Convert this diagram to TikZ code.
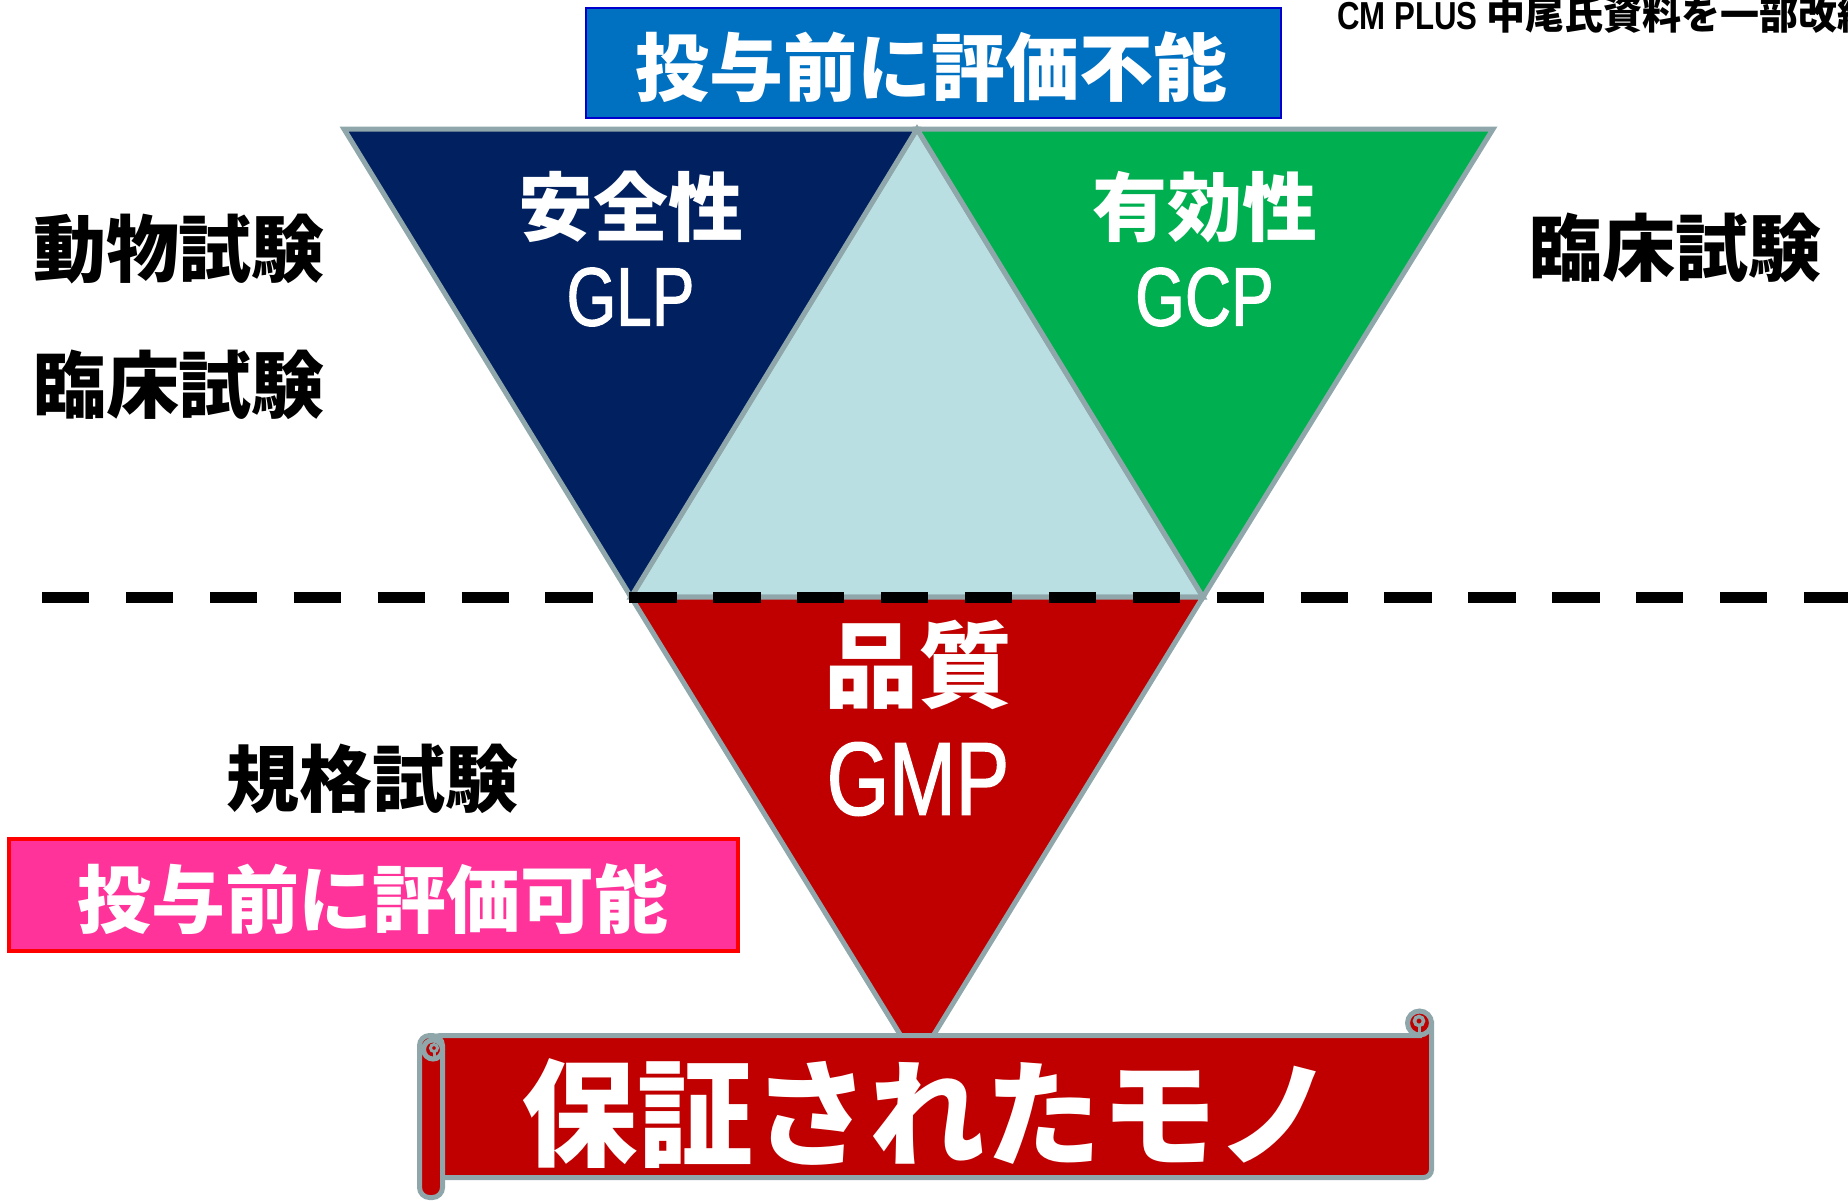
\documentclass[tikz,border=0pt]{standalone}
\usepackage{fontspec}
\newfontfamily\jp{Noto Sans CJK JP}
\newfontfamily\lat{Liberation Sans}[FakeStretch=0.77,FakeBold=1.3]
\newfontfamily\latb{Liberation Sans}[FakeStretch=0.8]
\definecolor{navy}{HTML}{002060}
\definecolor{grn}{HTML}{00B050}
\definecolor{lblue}{HTML}{BADFE2}
\definecolor{dred}{HTML}{C00000}
\definecolor{pink}{HTML}{FF3399}
\definecolor{bluebox}{HTML}{0070C0}
\definecolor{blueedge}{HTML}{0000CC}
\definecolor{edge}{HTML}{8FA7AA}
\tikzset{
  tri/.style={draw=edge, line width=5pt, line join=miter},
  scrollsty/.style={draw=edge, fill=dred, line width=5pt},
  wtxt/.style={text=white, inner sep=0pt},
  btxt/.style={text=black, inner sep=0pt},
}
\begin{document}
\begin{tikzpicture}[x=1pt,y=-1pt]
\useasboundingbox (0,0) rectangle (1848,1200);
% vertices
\coordinate (TL) at (344,129);
\coordinate (TM) at (917,129);
\coordinate (TR) at (1493,129);
\coordinate (ML) at (631,597);
\coordinate (MR) at (1203,597);
\coordinate (BA) at (917,1062);
% triangles
\draw[tri, fill=lblue] (TM) -- (ML) -- (MR) -- cycle;
\draw[tri, fill=navy] (TL) -- (TM) -- (ML) -- cycle;
\draw[tri, fill=grn] (TM) -- (TR) -- (MR) -- cycle;
\draw[tri, fill=dred] (ML) -- (MR) -- (BA) -- cycle;
% dashed line
\coordinate (DL) at (42,597.5);
\coordinate (DR) at (1860,597.5);
\draw[black, line width=11.5pt, dash pattern=on 47.3pt off 36.6pt] (DL) -- (DR);
% blue box
\node[draw=blueedge, fill=bluebox, line width=2.5pt, minimum width=695pt, minimum height=110pt, inner sep=0pt] (topbox) at (933.5,63) {};
\node[wtxt, font=\jp\bfseries\fontsize{74}{80}\selectfont] (toptext) at (931,67) {投与前に評価不能};
% pink box
\node[draw=red, fill=pink, line width=4pt, minimum width=729pt, minimum height=112pt, inner sep=0pt] (pinkbox) at (373.5,894.5) {};
\node[wtxt, font=\jp\bfseries\fontsize{74}{80}\selectfont] (pinktext) at (373,899) {投与前に評価可能};
% triangle labels
\node[wtxt, font=\jp\bfseries\fontsize{75}{80}\selectfont] (anzen) at (630.5,207) {安全性};
\node[wtxt, font=\lat\fontsize{83}{90}\selectfont] (glp) at (630.5,297) {GLP};
\node[wtxt, font=\jp\bfseries\fontsize{75}{80}\selectfont] (yuko) at (1204.5,207) {有効性};
\node[wtxt, font=\lat\fontsize{83}{90}\selectfont] (gcp) at (1204.5,297) {GCP};
\node[wtxt, font=\jp\bfseries\fontsize{94}{100}\selectfont] (hinshitsu) at (918,665) {品質};
\node[wtxt, font=\lat\fontsize{104}{110}\selectfont] (gmp) at (918,779) {GMP};
% side labels
\node[btxt, font=\jp\bfseries\fontsize{73}{80}\selectfont] (dobutsu) at (179,249) {動物試験};
\node[btxt, font=\jp\bfseries\fontsize{73}{80}\selectfont] (rinshoL) at (179,385) {臨床試験};
\node[btxt, font=\jp\bfseries\fontsize{73}{80}\selectfont] (rinshoR) at (1675,248) {臨床試験};
\node[btxt, font=\jp\bfseries\fontsize{73}{80}\selectfont] (kikaku) at (372,779) {規格試験};
% credit
\node[btxt, anchor=west, font=\jp\bfseries\fontsize{39}{42}\selectfont] (credit) at (1337,15) {{\latb\bfseries CM PLUS} 中尾氏資料を一部改編};
% scroll banner
\draw[scrollsty] (432,1035.5) -- (1419.5,1035.5) -- (1419.5,1023) -- (1431.5,1023) [rounded corners=8pt] -- (1431.5,1177.5) -- (432,1177.5) -- cycle;
\coordinate (RC) at (1419.5,1023);
\draw[scrollsty] (RC) circle[radius=12];
\draw[draw=edge, fill=dred, line width=3.5pt] (1419,1021) circle[radius=4.5];
\draw[draw=edge, line width=3pt] (1419,1026) -- (1419,1034);
\draw[scrollsty, rounded corners=10pt] (419.5,1035.5) rectangle (442.5,1197.5);
\coordinate (LC) at (433,1049.5);
\draw[scrollsty] (LC) circle[radius=9.5];
\draw[draw=edge, fill=dred, line width=3pt] (434,1048) circle[radius=3.5];
\draw[draw=edge, line width=3pt] (434,1051.5) -- (434,1058);
\node[wtxt, font=\jp\bfseries\fontsize{116}{120}\selectfont] (hosho) at (927,1114) {保証されたモノ};
\end{tikzpicture}
\end{document}
